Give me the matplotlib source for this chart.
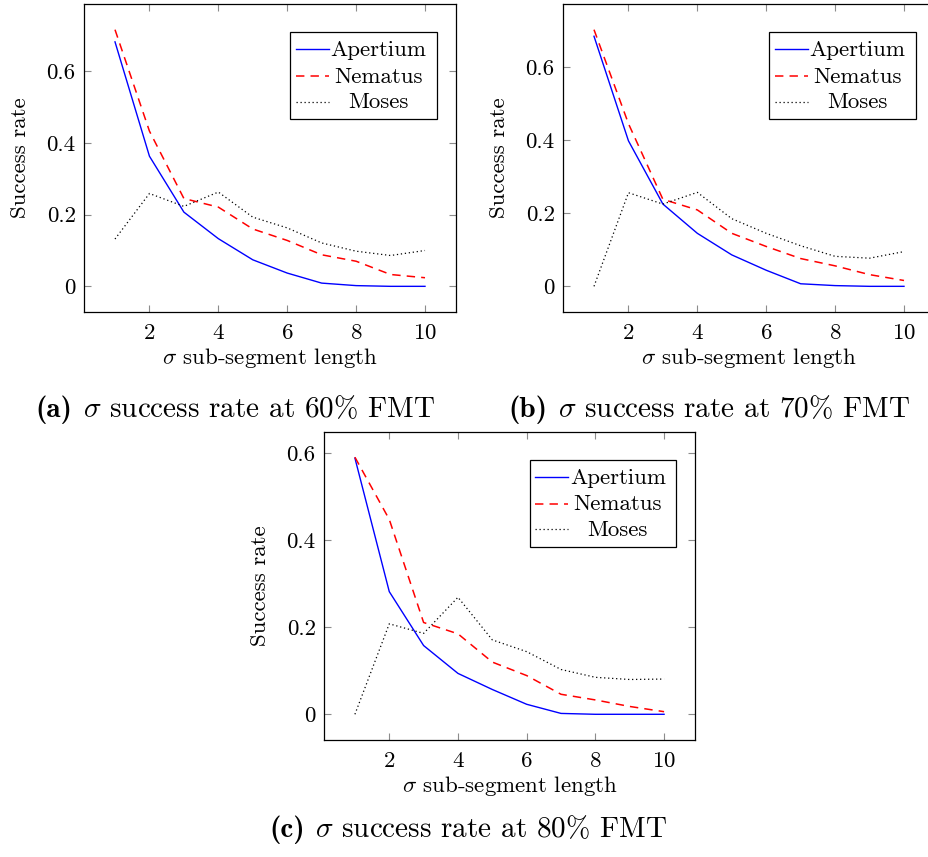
import matplotlib
matplotlib.use("Agg")
import matplotlib.pyplot as plt
from matplotlib.patches import Rectangle
from matplotlib.ticker import FuncFormatter
from matplotlib.transforms import offset_copy

plt.rcParams['font.family'] = 'cmr10'
plt.rcParams['mathtext.fontset'] = 'cm'
plt.rcParams['axes.unicode_minus'] = False
plt.rcParams['axes.formatter.use_mathtext'] = True

# sub-segment length
lengths = [1, 2, 3, 4, 5, 6, 7, 8, 9, 10]

# (a) 60% FMT
apertium_60 = [0.682, 0.363, 0.207, 0.133, 0.074, 0.037, 0.009, 0.002, 0.0, 0.0]
nematus_60 = [0.716, 0.433, 0.245, 0.221, 0.160, 0.128, 0.088, 0.070, 0.033, 0.024]
moses_60 = [0.132, 0.259, 0.223, 0.263, 0.193, 0.163, 0.121, 0.098, 0.086, 0.100]

# (b) 70% FMT
apertium_70 = [0.684, 0.398, 0.225, 0.145, 0.086, 0.044, 0.007, 0.002, 0.0, 0.0]
nematus_70 = [0.702, 0.445, 0.238, 0.209, 0.145, 0.109, 0.076, 0.056, 0.032, 0.016]
moses_70 = [0.0, 0.256, 0.225, 0.257, 0.185, 0.145, 0.111, 0.082, 0.077, 0.095]

# (c) 80% FMT
apertium_80 = [0.589, 0.282, 0.158, 0.094, 0.057, 0.023, 0.002, 0.0, 0.0, 0.0]
nematus_80 = [0.591, 0.448, 0.211, 0.185, 0.120, 0.089, 0.046, 0.033, 0.018, 0.006]
moses_80 = [0.0, 0.208, 0.186, 0.269, 0.171, 0.144, 0.103, 0.085, 0.080, 0.081]

systems = ['Apertium', 'Nematus', 'Moses']
cap_tags = ['(a)', '(b)', '(c)']
cap_texts = [r'$\sigma$ success rate at 60% FMT',
             r'$\sigma$ success rate at 70% FMT',
             r'$\sigma$ success rate at 80% FMT']

styles = {
    'Apertium': dict(color='blue', lw=1.0, ls='-'),
    'Nematus': dict(color='red', lw=1.1, ls=(0, (5.5, 4))),
    'Moses': dict(color='black', lw=0.9, ls=(0, (1, 2.2))),
}

FS = 16.5
CAP_FS = 21


def draw_legend(ax):
    # pgfplots-style legend box with centred entries
    ax.add_patch(Rectangle((0.554, 0.627), 0.395, 0.282, transform=ax.transAxes,
                           facecolor='white', edgecolor='black', lw=0.9, zorder=5))
    rows = [0.853, 0.766, 0.683]
    for name, y in zip(systems, rows):
        ax.plot([0.570, 0.659], [y, y], transform=ax.transAxes, zorder=6, **styles[name])
        ax.text(0.792, y - 0.022, name, transform=ax.transAxes, ha='center',
                va='baseline', fontsize=FS, zorder=6)


def caption(fig, renderer, tag, text, cx, cy):
    # bold tag + regular text, centred as a whole on (cx, cy)
    t1 = fig.text(0, cy, tag, fontsize=CAP_FS, family='cmb10', va='baseline')
    t2 = fig.text(0, cy, text, fontsize=CAP_FS, va='baseline')
    w1 = t1.get_window_extent(renderer).width
    w2 = t2.get_window_extent(renderer).width
    gap = 0.35 * CAP_FS * fig.dpi / 72
    total = w1 + gap + w2
    x0 = cx * fig.bbox.width - total / 2
    t1.set_x(x0 / fig.bbox.width)
    t2.set_x((x0 + w1 + gap) / fig.bbox.width)


def panel(fig, rect, series):
    ax = fig.add_axes(rect)
    for name, vals in zip(systems, series):
        ax.plot(lengths, vals, **styles[name])
    top = max(max(v) for v in series)
    ax.set_xlim(0.1, 10.9)
    ax.set_ylim(-0.1 * top, 1.1 * top)
    ax.set_xticks([2, 4, 6, 8, 10])
    ax.set_yticks([0, 0.2, 0.4, 0.6])
    ax.yaxis.set_major_formatter(FuncFormatter(lambda v, _: f'{v:g}'))
    ax.tick_params(direction='in', top=True, right=True, length=5, width=0.8,
                   color='0.55', labelsize=FS)
    ax.tick_params(axis='y', pad=6)
    ax.tick_params(axis='x', pad=8)
    for s in ax.spines.values():
        s.set_linewidth(0.9)
    ax.set_xlabel(r'$\sigma$ sub-segment length', fontsize=FS)
    ax.set_ylabel('Success rate', fontsize=FS)
    ax.xaxis.set_label_coords(0.5, -0.11)
    ax.yaxis.set_label_coords(-0.145, 0.5)
    draw_legend(ax)
    return ax


fig = plt.figure(figsize=(9.29, 8.57), dpi=100)
W, H = 929, 857
renderer = fig.canvas.get_renderer()

panel(fig, [84 / W, 1 - 312 / H, 372 / W, 308 / H], [apertium_60, nematus_60, moses_60])
panel(fig, [563 / W, 1 - 312 / H, 372 / W, 308 / H], [apertium_70, nematus_70, moses_70])
panel(fig, [324 / W, 1 - 740 / H, 371 / W, 308.5 / H], [apertium_80, nematus_80, moses_80])

caption(fig, renderer, cap_tags[0], cap_texts[0], 235 / W, 1 - 417 / H)
caption(fig, renderer, cap_tags[1], cap_texts[1], 709 / W, 1 - 417 / H)
caption(fig, renderer, cap_tags[2], cap_texts[2], 468 / W, 1 - 837 / H)

fig.savefig('out.png', dpi=100)
plt.close(fig)
